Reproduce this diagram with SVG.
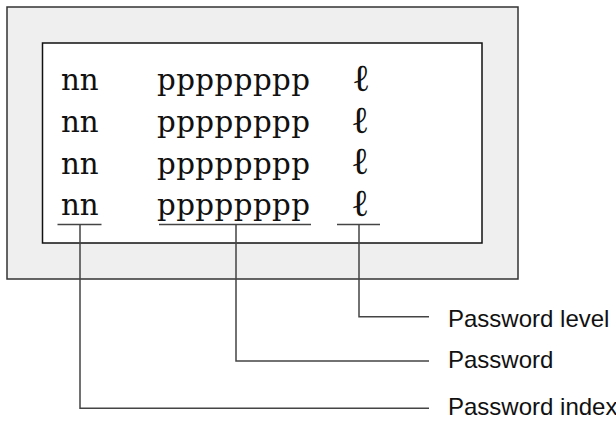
<svg xmlns="http://www.w3.org/2000/svg" width="616" height="423" viewBox="0 0 616 423">
<style>
.mono{font-family:"DejaVu Serif","Liberation Serif",serif;font-size:29.3px;fill:#111}
.ell{font-family:"DejaVu Sans","Liberation Serif",sans-serif;font-weight:200;font-size:38px;fill:#111}
.lbl{font-family:"Liberation Sans",Arial,sans-serif;font-size:24px;fill:#111}
.ln{stroke:#444;stroke-width:1.5;fill:none}
</style>
<rect width="616" height="423" fill="#ffffff"/>
<g id="panel">
<rect x="7" y="7" width="511" height="272" fill="#efefef" stroke="#333" stroke-width="1.5"/>
<rect x="42.5" y="43" width="439.5" height="200" fill="#ffffff" stroke="#111" stroke-width="1.5"/>
</g>
<g id="rows">
<text class="mono" x="61" y="90">nn</text>
<text class="mono" x="157" y="90" textLength="153" lengthAdjust="spacing">pppppppp</text>
<text class="ell" x="352" y="91">ℓ</text>
<text class="mono" x="61" y="131.5">nn</text>
<text class="mono" x="157" y="131.5" textLength="153" lengthAdjust="spacing">pppppppp</text>
<text class="ell" x="351" y="133">ℓ</text>
<text class="mono" x="61" y="173.5">nn</text>
<text class="mono" x="157" y="173.5" textLength="153" lengthAdjust="spacing">pppppppp</text>
<text class="ell" x="351" y="174">ℓ</text>
<text class="mono" x="61" y="215">nn</text>
<text class="mono" x="157" y="215" textLength="153" lengthAdjust="spacing">pppppppp</text>
<text class="ell" x="351" y="216">ℓ</text>
</g>
<g id="connectors">
<line class="ln" x1="57.5" y1="224.5" x2="101.5" y2="224.5"/>
<line class="ln" x1="159" y1="224.5" x2="311" y2="224.5"/>
<line class="ln" x1="337" y1="224.5" x2="380" y2="224.5"/>
<polyline class="ln" points="359,224.5 359,316.7 429,316.7"/>
<polyline class="ln" points="236,224.5 236,361 429,361"/>
<polyline class="ln" points="80,224.5 80,408.3 429,408.3"/>
</g>
<g id="labels">
<text class="lbl" x="448" y="326.7">Password level</text>
<text class="lbl" x="448" y="368.3">Password</text>
<text class="lbl" x="448" y="415">Password index</text>
</g>
</svg>
